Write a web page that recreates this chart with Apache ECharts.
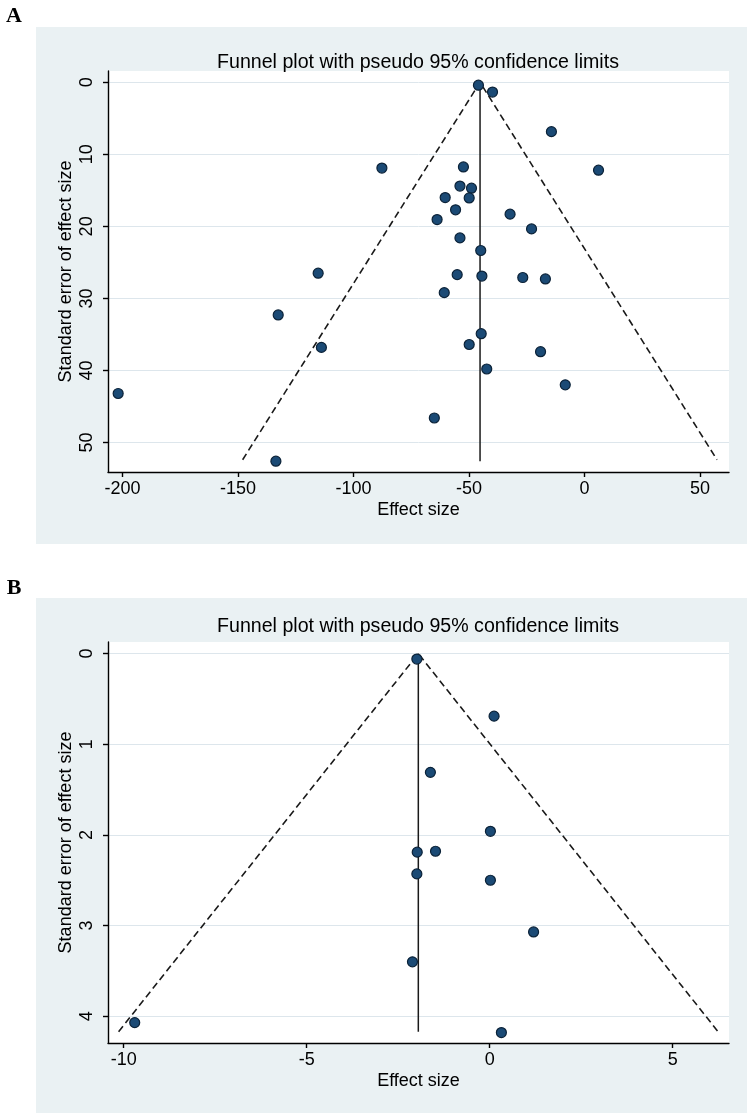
<!DOCTYPE html>
<html>
<head>
<meta charset="utf-8">
<script src="https://cdn.jsdelivr.net/npm/echarts@6/dist/echarts.min.js"></script>
<style>
html, body { margin: 0; padding: 0; background: #fff; }
#main { width: 750px; height: 1117px; }
</style>
</head>
<body>
<div id="main"></div>
<script>
// 图A：效应量 / 标准误
const aEffect = [-45.9, -39.8, -14.3, -87.7, -52.4, 6.1, -53.9, -48.9, -60.3, -49.9,
    -55.8, -63.8, -32.2, -22.9, -53.9, -44.9, -55.1, -44.4, -26.7, -16.9,
    -60.7, -115.3, -132.6, -113.9, -201.9, -133.6,
    -44.7, -49.9, -19.0, -42.3, -8.3, -65.0];
const aSe = [0.4, 1.35, 6.85, 11.9, 11.75, 12.2, 14.4, 14.7, 16.0, 16.05,
    17.7, 19.05, 18.3, 20.35, 21.6, 23.35, 26.7, 26.9, 27.1, 27.3,
    29.2, 26.5, 32.3, 36.8, 43.2, 52.6,
    34.9, 36.4, 37.4, 39.8, 42.0, 46.6];
// 漏斗线 (左端, 顶点, 右端) 和合并效应线
const aFunnel = [[-148.0, 52.4], [-45.2, 0], [57.4, 52.4]];
const aPooled = [[-45.2, 0], [-45.2, 52.6]];
const aXTicks = [-200, -150, -100, -50, 0, 50];
const aYTicks = [0, 10, 20, 30, 40, 50];

// 图B
const bEffect = [-1.99, 0.12, -1.62, 0.02, -1.98, -1.48, -1.99, 0.02, 1.2, -2.11, 0.32, -9.70];
const bSe = [0.06, 0.69, 1.31, 1.96, 2.19, 2.18, 2.43, 2.50, 3.07, 3.40, 4.18, 4.07];
const bFunnel = [[-10.14, 4.17], [-1.95, 0], [6.24, 4.17]];
const bPooled = [[-1.95, 0], [-1.95, 4.17]];
const bXTicks = [-10, -5, 0, 5];
const bYTicks = [0, 1, 2, 3, 4];

const titleText = 'Funnel plot with pseudo 95% confidence limits';
const font = '"Liberation Sans", Arial, sans-serif';

const zip = function (xs, ys) {
    return xs.map(function (x, i) { return [x, ys[i]]; });
};

const makeX = function (idx, min, max, ticks) {
    return {
        type: 'value', gridIndex: idx, min: min, max: max, position: 'bottom',
        name: 'Effect size', nameLocation: 'middle', nameGap: 29, nameMoveOverlap: false,
        nameTextStyle: { fontSize: 18, color: '#000', fontFamily: font },
        axisLine: { show: true, onZero: false, lineStyle: { color: '#000', width: 1.4 } },
        axisTick: { show: true, length: 5, customValues: ticks, lineStyle: { color: '#000', width: 1.4 } },
        axisLabel: { customValues: ticks, fontSize: 18, color: '#000', fontFamily: font, margin: 8 },
        splitLine: { show: false }
    };
};

const makeY = function (idx, min, max, ticks) {
    return {
        type: 'value', gridIndex: idx, min: min, max: max, inverse: true, position: 'left',
        name: 'Standard error of effect size', nameLocation: 'middle', nameGap: 33, nameRotate: 90,
        nameMoveOverlap: false,
        nameTextStyle: { fontSize: 18, color: '#000', fontFamily: font },
        axisLine: { show: true, onZero: false, lineStyle: { color: '#000', width: 1.4 } },
        axisTick: { show: true, length: 5, customValues: ticks, lineStyle: { color: '#000', width: 1.4 } },
        axisLabel: { customValues: ticks, rotate: 90, fontSize: 18, color: '#000', fontFamily: font, margin: 12 },
        splitLine: { show: true, lineStyle: { color: '#dde6ec', width: 1 } }
    };
};

const dots = function (idx, data) {
    return {
        type: 'scatter', xAxisIndex: idx, yAxisIndex: idx, data: data, symbolSize: 10, z: 5,
        itemStyle: { color: '#1b4a75', borderColor: '#0b2238', borderWidth: 1.2, opacity: 1 }
    };
};

const line = function (idx, data, dashed) {
    return {
        type: 'line', xAxisIndex: idx, yAxisIndex: idx, data: data, showSymbol: false, z: 3,
        silent: true, animation: false,
        lineStyle: { color: '#1a1a1a', width: dashed ? 1.6 : 1.5, type: dashed ? [7, 4] : 'solid' }
    };
};

let myChart = echarts.init(document.getElementById('main'));

let option = {
    animation: false,
    backgroundColor: '#fff',
    graphic: [
        { type: 'rect', z: -100, shape: { x: 36, y: 27, width: 711, height: 517 }, style: { fill: '#eaf1f3' } },
        { type: 'rect', z: -100, shape: { x: 36, y: 598, width: 711, height: 515 }, style: { fill: '#eaf1f3' } },
        { type: 'text', x: 14, y: 16, style: { text: 'A', font: 'bold 22px "Liberation Serif", serif', fill: '#000', textAlign: 'center', textVerticalAlign: 'middle' } },
        { type: 'text', x: 14, y: 588, style: { text: 'B', font: 'bold 22px "Liberation Serif", serif', fill: '#000', textAlign: 'center', textVerticalAlign: 'middle' } },
        { type: 'text', x: 418, y: 63, style: { text: titleText, font: '19.6px "Liberation Sans", Arial, sans-serif', fill: '#000', textAlign: 'center', textVerticalAlign: 'middle' } },
        { type: 'text', x: 418, y: 627, style: { text: titleText, font: '19.6px "Liberation Sans", Arial, sans-serif', fill: '#000', textAlign: 'center', textVerticalAlign: 'middle' } }
    ],
    grid: [
        { left: 108, top: 71, width: 621, height: 401, show: true, backgroundColor: '#fff', borderWidth: 0 },
        { left: 108, top: 642, width: 621, height: 401, show: true, backgroundColor: '#fff', borderWidth: 0 }
    ],
    xAxis: [
        makeX(0, -206.3, 62.6, aXTicks),
        makeX(1, -10.43, 6.54, bXTicks)
    ],
    yAxis: [
        makeY(0, -1.57, 54.1, aYTicks),
        makeY(1, -0.128, 4.295, bYTicks)
    ],
    series: [
        line(0, aFunnel, true),
        line(0, aPooled, false),
        dots(0, zip(aEffect, aSe)),
        line(1, bFunnel, true),
        line(1, bPooled, false),
        dots(1, zip(bEffect, bSe))
    ]
};

myChart.setOption(option);
</script>
</body>
</html>
